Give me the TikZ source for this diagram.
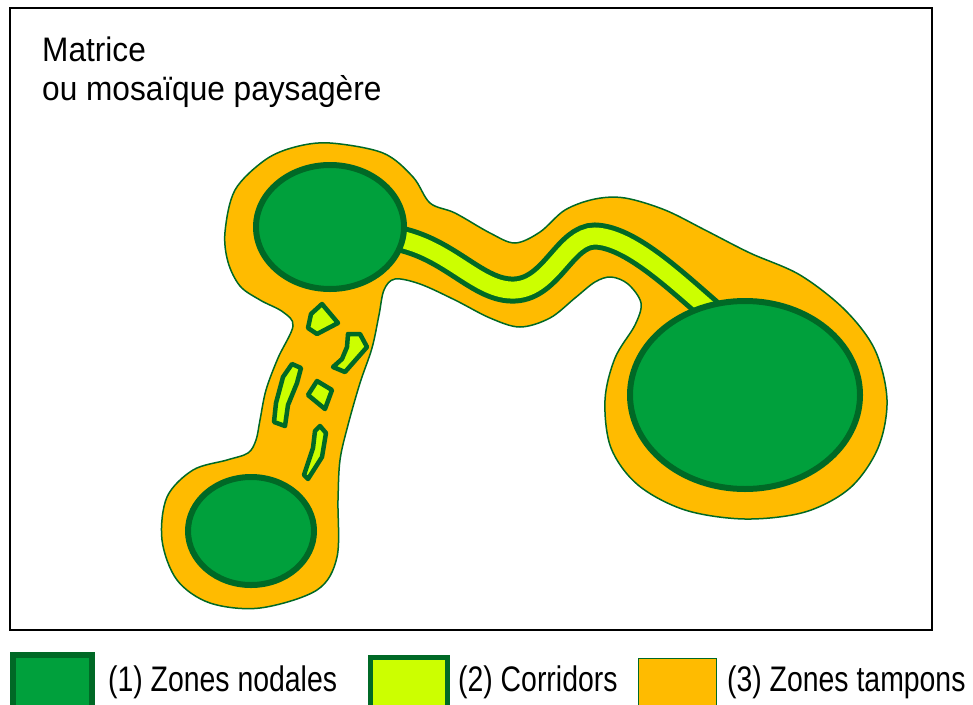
\documentclass[tikz,border=0pt]{standalone}
\usepackage{fontspec}
\setmainfont{Liberation Sans}
\definecolor{nodalgreen}{RGB}{0,160,60}
\definecolor{darkgreen}{RGB}{0,105,38}
\definecolor{limegreen}{RGB}{204,255,0}
\definecolor{bufferorange}{RGB}{255,187,0}
\begin{document}
\begin{tikzpicture}[x=1pt,y=-1pt,
  nodal/.style={fill=nodalgreen,draw=darkgreen,line width=6},
  patch/.style={fill=limegreen,draw=darkgreen,line width=4.5,line join=round},
  buffer/.style={fill=bufferorange,draw=darkgreen,line width=1.5},
  lbl/.style={font=\fontsize{35.5}{40}\selectfont,xscale=0.8,anchor=base west,inner sep=0pt},
  ttl/.style={font=\fontsize{34}{40}\selectfont,xscale=0.93,anchor=base west,inner sep=0pt}]
\useasboundingbox (0,0) rectangle (973,704);
\clip (0,0) rectangle (973,704);
\fill[white] (0,0) rectangle (973,704);
% frame
\draw[line width=2] (10,8) rectangle (932,630);
% title
\node[ttl] (title1) at (42,61) {Matrice};
\node[ttl] (title2) at (42,100) {ou mosaïque\ paysagère};
% buffer zone
\draw[buffer] plot[smooth cycle, tension=0.55] coordinates {
 (330,143) (383,153) (413,177) (430,203) (455,213) (490,233) (515,243)
 (540,232) (565,210) (595,199) (625,198) (665,210) (705,230) (750,253)
 (800,275) (845,310) (875,350) (887,400) (878,448) (850,488) (805,512)
 (745,519) (685,510) (638,485) (611,448) (605,400) (615,358) (635,325)
 (641,303) (628,284) (611,277) (595,282) (575,298) (550,318) (520,327)
 (490,318) (455,300) (420,284) (395,279) (384,290) (379,315) (372,348)
 (360,383) (348,425) (340,460) (338,500) (337,557) (317,590) (260,608)
 (210,603) (177,580) (162,540) (167,497) (193,470) (227,460) (248,453)
 (256,440) (260,420) (266,390) (278,358) (293,326) (283,312) (260,300)
 (240,286) (228,262) (225,232) (235,190) (265,160) (295,147)};
% corridor
\draw[darkgreen,line width=27] (395,238) .. controls (450,248) and (478,292) .. (515,290)
  .. controls (552,288) and (565,236) .. (595,236) .. controls (630,237) and (675,280) .. (712,312);
\draw[limegreen,line width=17] (395,238) .. controls (450,248) and (478,292) .. (515,290)
  .. controls (552,288) and (565,236) .. (595,236) .. controls (630,237) and (675,280) .. (712,312);
% nodal zones
\draw[nodal] (330,227) ellipse [x radius=74, y radius=62];
\draw[nodal] (251,531) ellipse [x radius=63, y radius=54];
\draw[nodal] (745,395) ellipse [x radius=115, y radius=94];
% stepping stones
\draw[patch] (322,304) -- (338,323) -- (317,334) -- (308,328) -- (311,314) -- cycle;
\draw[patch] (348,334) -- (360,334) -- (367,347) -- (345,372) -- (333,367) -- (342,359) -- (347,347) -- cycle;
\draw[patch] (292,364) -- (301,368) -- (297,383) -- (288,405) -- (285,426) -- (274,422) -- (276,403) -- (283,377) -- cycle;
\draw[patch] (317,381) -- (332,390) -- (325,409) -- (308,395) -- cycle;
\draw[patch] (320,426) -- (326,433) -- (322,457) -- (308,479) -- (304,475) -- (313,448) -- (315,431) -- cycle;
% legend
\draw[fill=nodalgreen,draw=darkgreen,line width=6] (13,655) rectangle (92,715);
\node[lbl] (l1) at (108,691) {(1) Zones nodales};
\draw[fill=limegreen,draw=darkgreen,line width=5] (370.5,657.5) rectangle (447.5,715);
\node[lbl] (l2) at (458,691) {(2) Corridors};
\draw[fill=bufferorange,draw=darkgreen,line width=1.5] (638.5,658.5) rectangle (716.5,715);
\node[lbl] (l3) at (727,691) {(3) Zones tampons};
\end{tikzpicture}
\end{document}
